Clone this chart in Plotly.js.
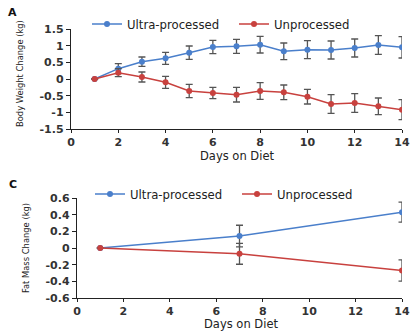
<!DOCTYPE html>
<html><head><meta charset="utf-8">
<script src="https://cdn.plot.ly/plotly-3.0.1.min.js"></script>
<style>html,body{margin:0;padding:0;background:#fff}#chart{width:410px;height:331px}</style>
</head><body><div id="chart"></div>
<script>
// Panel A: body weight change
const daysA = [1,2,3,4,5,6,7,8,9,10,11,12,13,14];
const ultraA = [0,0.31,0.52,0.62,0.79,0.96,0.98,1.03,0.83,0.88,0.87,0.93,1.02,0.95];
const ultraAErr = [0,0.15,0.14,0.18,0.2,0.2,0.21,0.25,0.25,0.27,0.27,0.27,0.28,0.32];
const unprocA = [0,0.19,0.06,-0.1,-0.36,-0.42,-0.47,-0.36,-0.4,-0.53,-0.75,-0.72,-0.82,-0.92];
const unprocAErr = [0,0.12,0.15,0.18,0.2,0.17,0.22,0.25,0.22,0.22,0.28,0.28,0.25,0.3];
// Panel C: fat mass change
const daysC = [1,7,14];
const ultraC = [0,0.143,0.43];
const ultraCErr = [0,0.13,0.12];
const unprocC = [0,-0.07,-0.27];
const unprocCErr = [0,0.125,0.127];
// ticks
const xTicks = [0,2,4,6,8,10,12,14];
const yTicksA = [-1.5,-1,-0.5,0,0.5,1,1.5];
const yTextA = ['-1.5','-1','-0.5','0','0.5','1','1.5'];
const yTicksC = [-0.6,-0.4,-0.2,0,0.2,0.4,0.6];
const yTextC = ['-0.6','-0.4','-0.2','0','0.2','0.4','0.6'];
const names = ['Ultra-processed','Unprocessed'];

const BLUE = '#4a7fcb', RED = '#c8413e', ERR = '#555555';
function tr(x,y,e,name,color,xa,ya,leg){
  return {x:x,y:y,name:name,type:'scatter',mode:'lines+markers',xaxis:xa,yaxis:ya,legend:leg,
    line:{color:color,width:1.5},marker:{color:color,size:6},
    error_y:{type:'data',array:e,visible:true,color:ERR,thickness:1.3,width:3.5}};
}
const data = [
  tr(daysA,ultraA,ultraAErr,names[0],BLUE,'x','y','legend'),
  tr(daysA,unprocA,unprocAErr,names[1],RED,'x','y','legend'),
  tr(daysC,ultraC,ultraCErr,names[0],BLUE,'x2','y2','legend2'),
  tr(daysC,unprocC,unprocCErr,names[1],RED,'x2','y2','legend2')
];
const tickFont = {family:'DejaVu Sans',size:11,color:'#333',weight:'bold'};
const ytitleFont = {family:'Liberation Sans Narrow, DejaVu Sans Condensed, Liberation Sans',size:9.3,color:'#222'};
const xtitleFont = {family:'DejaVu Sans',size:11.5,color:'#222'};
function xax(domain,anchor){
  return {domain:domain,anchor:anchor,range:[0,14],tickvals:xTicks,showgrid:false,zeroline:false,
    showline:true,linecolor:'#222',linewidth:1.2,ticks:'outside',ticklen:3,tickcolor:'#222',
    ticklabeloverflow:'allow',tickfont:tickFont};
}
function yax(domain,anchor,tv,tt){
  return {domain:domain,anchor:anchor,range:[tv[0],tv[tv.length-1]],tickvals:tv,ticktext:tt,
    showgrid:false,zeroline:false,showline:true,linecolor:'#222',linewidth:1.2,ticks:'outside',
    ticklen:4,tickcolor:'#222',tickfont:tickFont};
}
const legFont = {family:'DejaVu Sans',size:11.7,color:'#222'};
function ann(text,x,y,font,angle){
  return {text:text,x:x/410,y:1-y/331,xref:'paper',yref:'paper',showarrow:false,xanchor:'center',yanchor:'middle',font:font,textangle:angle||0};
}
const layout = {
  width:410,height:331,margin:{l:0,r:0,t:0,b:0},paper_bgcolor:'#fff',plot_bgcolor:'#fff',
  showlegend:true,
  xaxis:xax([71/410,402/410],'y'),
  yaxis:yax([1-129/331,1-29/331],'x',yTicksA,yTextA),
  xaxis2:xax([77/410,402/410],'y2'),
  yaxis2:yax([1-298/331,1-198/331],'x2',yTicksC,yTextC),
  legend:{orientation:'h',x:87/410,y:1-24/331,xanchor:'left',yanchor:'middle',
    font:legFont,bgcolor:'rgba(0,0,0,0)',itemwidth:30,entrywidth:102},
  legend2:{orientation:'h',x:90/410,y:1-194/331,xanchor:'left',yanchor:'middle',
    font:legFont,bgcolor:'rgba(0,0,0,0)',itemwidth:30,entrywidth:102},
  annotations:[
    ann('<b>A</b>',12,12,{family:'DejaVu Sans',size:11,color:'#111'}),
    ann('<b>C</b>',13,184,{family:'DejaVu Sans',size:11,color:'#111'}),
    ann('Body Weight Change (kg)',19,74,ytitleFont,-90),
    ann('Fat Mass Change (kg)',25,248,ytitleFont,-90),
    ann('Days on Diet',237,156,xtitleFont),
    ann('Days on Diet',241,324,xtitleFont)
  ]
};
Plotly.newPlot('chart',data,layout,{displayModeBar:false,staticPlot:true});
</script></body></html>
